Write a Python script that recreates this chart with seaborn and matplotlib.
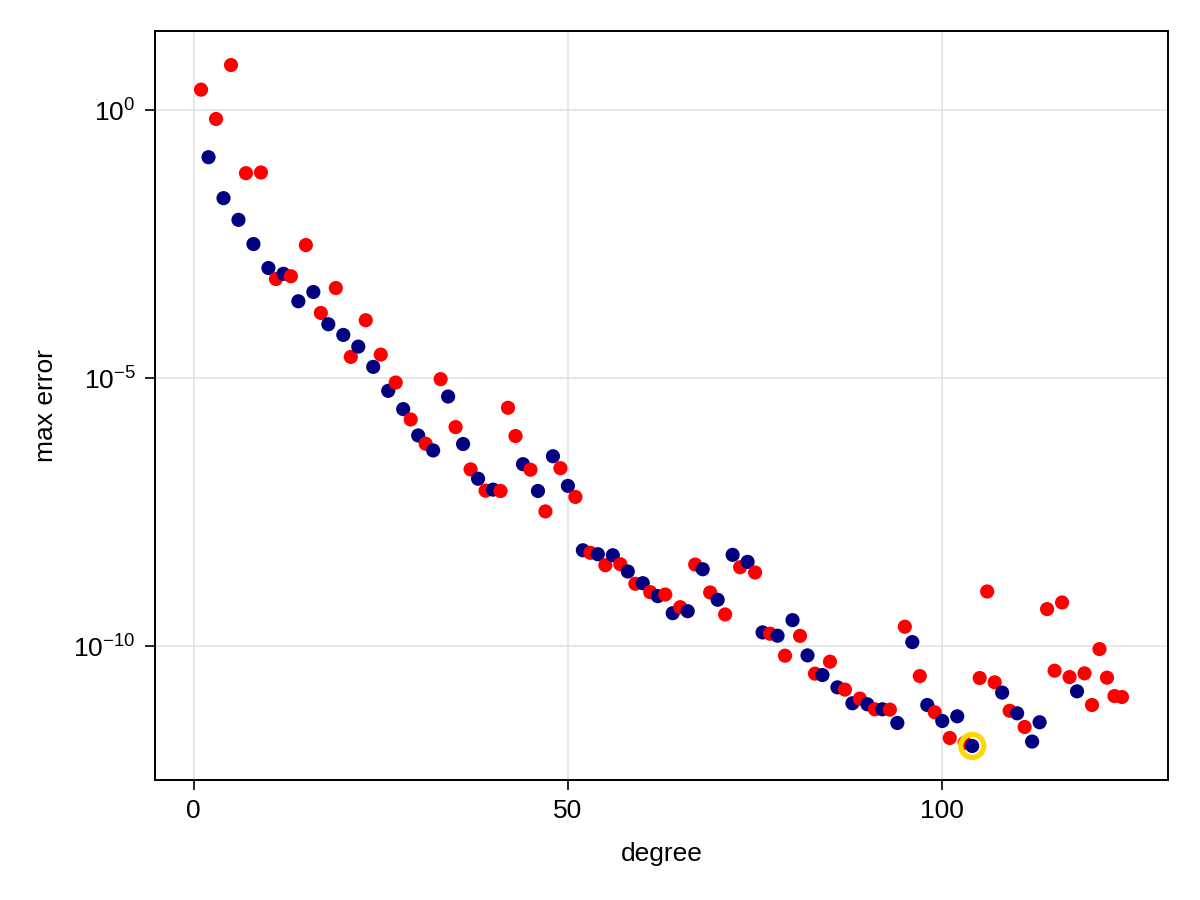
import numpy as np
import pandas as pd
import matplotlib
matplotlib.use("Agg")
import matplotlib.pyplot as plt
import seaborn as sns
from matplotlib.ticker import FixedLocator, LogFormatterSciNotation, NullLocator

# ---------------- data ----------------
degree = list(range(1, 125))

log10_max_error = [
    0.385, -0.875, -0.162, -1.639, 0.844, -2.043, -1.173, -2.495, -1.160, -2.942,      # 1-10
    -3.147, -3.050, -3.095, -3.562, -2.514, -3.389, -3.780, -3.991, -3.315, -4.190,    # 11-20
    -4.600, -4.408, -3.916, -4.786, -4.557, -5.233, -5.078, -5.574, -5.767, -6.065,    # 21-30
    -6.220, -6.345, -5.015, -5.339, -5.909, -6.225, -6.698, -6.872, -7.095, -7.076,    # 31-40
    -7.101, -5.549, -6.076, -6.601, -6.704, -7.101, -7.482, -6.453, -6.676, -7.006,    # 41-50
    -7.212, -8.207, -8.255, -8.281, -8.486, -8.300, -8.467, -8.603, -8.832, -8.821,    # 51-60
    -8.989, -9.063, -9.032, -9.380, -9.268, -9.343, -8.473, -8.561, -8.994, -9.130,    # 61-70
    -9.404, -8.292, -8.523, -8.423, -8.622, -9.739, -9.764, -9.801, -10.173, -9.510,   # 71-80
    -9.804, -10.168, -10.508, -10.534, -10.285, -10.764, -10.806, -11.061, -10.974, -11.080,  # 81-90
    -11.173, -11.173, -11.179, -11.428, -9.633, -9.920, -10.553, -11.093, -11.229, -11.391,   # 91-100
    -11.708, -11.304, -11.797, -11.857, -10.590, -8.976, -10.670, -10.862, -11.201, -11.248,  # 101-110
    -11.503, -11.775, -11.415, -9.305, -10.453, -9.181, -10.572, -10.838, -10.503, -11.093,   # 111-120
    -10.050, -10.583, -10.926, -10.944,                                                       # 121-124
]

# marker group for each degree: "r" = red points, "b" = navy points
group = [
    "r", "b", "r", "b", "r", "b", "r", "b", "r", "b",   # 1-10
    "r", "b", "r", "b", "r", "b", "r", "b", "r", "b",   # 11-20
    "r", "b", "r", "b", "r", "b", "r", "b", "r", "b",   # 21-30
    "r", "b", "r", "b", "r", "b", "r", "b", "r", "b",   # 31-40
    "r", "r", "r", "b", "r", "b", "r", "b", "r", "b",   # 41-50
    "r", "b", "r", "b", "r", "b", "r", "b", "r", "b",   # 51-60
    "r", "b", "r", "b", "r", "b", "r", "b", "r", "b",   # 61-70
    "r", "b", "r", "b", "r", "b", "r", "b", "r", "b",   # 71-80
    "r", "b", "r", "b", "r", "b", "r", "b", "r", "b",   # 81-90
    "r", "b", "r", "b", "r", "b", "r", "b", "r", "b",   # 91-100
    "r", "b", "r", "b", "r", "r", "r", "b", "r", "b",   # 101-110
    "r", "b", "b", "r", "r", "r", "r", "b", "r", "r",   # 111-120
    "r", "r", "r", "r",                                 # 121-124
]

highlight_degree = 104

# ---------------- style ----------------
sns.set_style("white")
plt.rcParams["font.family"] = ["Liberation Sans", "DejaVu Sans"]
plt.rcParams["mathtext.fontset"] = "custom"
plt.rcParams["mathtext.rm"] = "Liberation Sans"
plt.rcParams["mathtext.it"] = "Liberation Sans:italic"
plt.rcParams["mathtext.bf"] = "Liberation Sans:bold"
plt.rcParams["text.color"] = "black"
plt.rcParams["axes.labelcolor"] = "black"
plt.rcParams["xtick.color"] = "black"
plt.rcParams["ytick.color"] = "black"
plt.rcParams["grid.alpha"] = 1.0

df = pd.DataFrame({
    "degree": degree,
    "max error": 10.0 ** np.array(log10_max_error),
    "group": group,
})

fig = plt.figure(figsize=(12, 9), dpi=100)
ax = fig.add_axes([155 / 1200, 120 / 900, 1013 / 1200, 749 / 900])

sns.scatterplot(
    data=df, x="degree", y="max error", hue="group",
    palette={"r": "#FF0000", "b": "#000080"},
    s=104, linewidth=0, legend=False, ax=ax, zorder=3,
)
ax.set_yscale("log")

hl = df[df["degree"] == highlight_degree]
ax.scatter(hl["degree"], hl["max error"], s=275, facecolors="none",
           edgecolors="#FFD700", linewidths=3.8, zorder=4)

ax.margins(x=0.05, y=0.05)

ax.xaxis.set_major_locator(FixedLocator([0, 50, 100]))
ax.yaxis.set_major_locator(FixedLocator([1e-10, 1e-5, 1e0]))
ax.yaxis.set_minor_locator(NullLocator())
ax.yaxis.set_major_formatter(LogFormatterSciNotation())

ax.set_axisbelow(True)
ax.grid(True, which="major", color="#E0E0E0", alpha=1.0, linewidth=1.1)

for sp in ax.spines.values():
    sp.set_visible(True)
    sp.set_color("black")
    sp.set_linewidth(1.4)

ax.tick_params(axis="both", which="major", direction="out", length=7, width=1.2,
               color="black", labelcolor="black", labelsize=19,
               bottom=True, left=True, pad=7)

ax.set_xlabel("degree", fontsize=19, labelpad=13, color="black")
ax.set_ylabel("max error", fontsize=19, labelpad=11, color="black")

fig.savefig("out.png", dpi=100)
